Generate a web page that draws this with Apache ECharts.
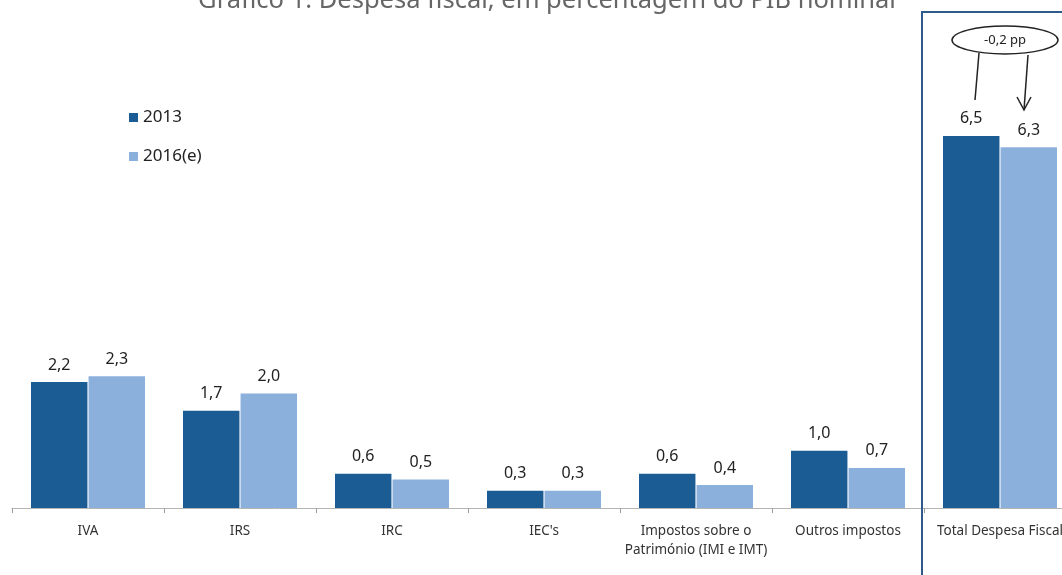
<!DOCTYPE html>
<html>
<head>
<meta charset="utf-8">
<script src="https://cdn.jsdelivr.net/npm/echarts@6/dist/echarts.min.js"></script>
<style>
html,body{margin:0;padding:0;background:#fff;}
#c{width:1062px;height:575px;}
</style>
</head>
<body>
<div id="c"></div>
<script>
const categories = ['IVA', 'IRS', 'IRC', "IEC's", 'Impostos sobre o\nPatrimónio (IMI e IMT)', 'Outros impostos', 'Total Despesa Fiscal'];
const seriesNames = ['2013', '2016(e)'];
const values2013 = [2.2, 1.7, 0.6, 0.3, 0.6, 1.0, 6.5];
const values2016 = [2.3, 2.0, 0.5, 0.3, 0.4, 0.7, 6.3];
const titleText = 'Gráfico 1. Despesa fiscal, em percentagem do PIB nominal';
const diffText = '-0,2 pp';

const chart = echarts.init(document.getElementById('c'));
const fmt = p => p.value.toFixed(1).replace('.', ',');
const labelStyle = {show: true, position: 'top', distance: 9, formatter: fmt, fontSize: 16, color: '#222', fontFamily: 'Noto Sans'};

chart.setOption({
  animation: false,
  backgroundColor: '#fff',
  grid: {left: 12, width: 1064, top: 50, height: 458, containLabel: false, outerBoundsMode: 'none'},
  legend: {
    orient: 'vertical', left: 124, top: 104, itemWidth: 9, itemHeight: 9, itemGap: 22,
    icon: 'rect',
    textStyle: {fontSize: 17, color: '#222', fontFamily: 'Noto Sans'},
    data: seriesNames
  },
  xAxis: {
    type: 'category', data: categories,
    axisLine: {lineStyle: {color: '#b5b5b5', width: 1}},
    axisTick: {show: true, length: 5, lineStyle: {color: '#9a9a9a'}},
    axisLabel: {margin: 14, fontSize: 13.5, color: '#333', lineHeight: 19, fontFamily: 'Noto Sans', interval: 0}
  },
  yAxis: {type: 'value', min: 0, max: 8, show: false, splitLine: {show: false}},
  series: [
    {name: seriesNames[0], type: 'bar', data: values2013, barGap: '2%', barCategoryGap: '25%',
     itemStyle: {color: '#1b5c95'}, label: labelStyle},
    {name: seriesNames[1], type: 'bar', data: values2016,
     itemStyle: {color: '#8cb0dc'}, label: labelStyle}
  ],
  graphic: [
    {type: 'text', x: 547, y: -12, style: {text: titleText, fontSize: 25.5, fill: '#666', align: 'center', verticalAlign: 'top', fontFamily: 'Noto Sans'}, z: 10},
    {type: 'polyline', shape: {points: [[922, 575], [922, 12], [1062, 12]]}, style: {stroke: '#2e5a8a', lineWidth: 2, fill: null}, z: 10},
    {type: 'line', shape: {x1: 979, y1: 53, x2: 975, y2: 100}, style: {stroke: '#222', lineWidth: 1.5}, z: 10},
    {type: 'line', shape: {x1: 1028, y1: 55, x2: 1024, y2: 110}, style: {stroke: '#222', lineWidth: 1.5}, z: 10},
    {type: 'polyline', shape: {points: [[1017, 97], [1024, 110], [1031, 97]]}, style: {stroke: '#222', lineWidth: 1.5, fill: null}, z: 10},
    {type: 'ellipse', shape: {cx: 1005, cy: 40, rx: 53, ry: 14}, style: {stroke: '#222', lineWidth: 1.5, fill: '#fff'}, z: 11},
    {type: 'text', x: 1005, y: 40, style: {text: diffText, fontSize: 13, fill: '#222', align: 'center', verticalAlign: 'middle', fontFamily: 'Noto Sans'}, z: 12}
  ]
});
</script>
</body>
</html>
